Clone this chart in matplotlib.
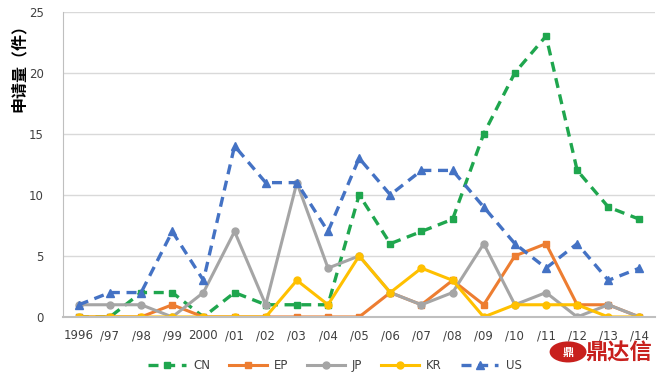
import numpy as np
import matplotlib.pyplot as plt
from matplotlib.patches import Circle

plt.rcParams['font.family'] = ['DejaVu Sans', 'Noto Sans CJK SC']

years = ['1996', '/97', '/98', '/99', '2000', '/01', '/02', '/03', '/04', '/05',
         '/06', '/07', '/08', '/09', '/10', '/11', '/12', '/13', '/14']
cn = [0, 0, 2, 2, 0, 2, 1, 1, 1, 10, 6, 7, 8, 15, 20, 23, 12, 9, 8]
ep = [0, 0, 0, 1, 0, 0, 0, 0, 0, 0, 2, 1, 3, 1, 5, 6, 1, 1, 0]
jp = [1, 1, 1, 0, 2, 7, 1, 11, 4, 5, 2, 1, 2, 6, 1, 2, 0, 1, 0]
kr = [0, 0, 0, 0, 0, 0, 0, 3, 1, 5, 2, 4, 3, 0, 1, 1, 1, 0, 0]
us = [1, 2, 2, 7, 3, 14, 11, 11, 7, 13, 10, 12, 12, 9, 6, 4, 6, 3, 4]

fig = plt.figure(figsize=(6.59, 3.76), dpi=100)
ax = fig.add_axes([0.096, 0.157, 0.898, 0.812])
x = np.arange(len(years))

ax.plot(x, cn, color='#1FA64E', lw=2.4, ls=(0, (3, 2)), marker='s', ms=5, label='CN')
ax.plot(x, ep, color='#ED7D31', lw=2.2, marker='s', ms=5, label='EP')
ax.plot(x, jp, color='#A5A5A5', lw=2.2, marker='o', ms=5, label='JP')
ax.plot(x, kr, color='#FFC000', lw=2.2, marker='o', ms=5, label='KR')
ax.plot(x, us, color='#4472C4', lw=2.4, ls=(0, (3, 2)), marker='^', ms=5.5, label='US')

ax.set_xlim(-0.5, len(years) - 0.5)
ax.set_ylim(0, 25)
ax.set_yticks([0, 5, 10, 15, 20, 25])
ax.set_xticks(x)
ax.set_xticklabels(years)
ax.tick_params(length=0, labelsize=8.5, colors='#404040')
ax.tick_params(axis='x', pad=9)
ax.tick_params(axis='y', pad=14)
ax.grid(axis='y', color='#D9D9D9', lw=1)
ax.set_axisbelow(True)
for s in ['top', 'right']:
    ax.spines[s].set_visible(False)
ax.spines['left'].set_color('#BFBFBF')
ax.spines['bottom'].set_color('#BFBFBF')
ax.spines['bottom'].set_linewidth(1.5)

# y label sits near the top in the original
fig.text(0.028, 0.83, '申请量（件）', family=['Noto Sans CJK SC'], fontsize=11.5,
         fontweight='bold', rotation=90, ha='center', va='center')

fig.legend(*ax.get_legend_handles_labels(), loc='center', bbox_to_anchor=(0.508, 0.027),
           ncol=5, frameon=False, fontsize=8.5, handlelength=3.2, handletextpad=0.6,
           columnspacing=1.6, labelcolor='#404040', borderaxespad=0, borderpad=0)

# logo
fig.patches.append(Circle((0.862, 0.064), 0.028, transform=fig.transFigure,
                          facecolor='#C8201D', edgecolor='none'))
fig.text(0.862, 0.062, '鼎', color='white', fontsize=8, fontweight='bold',
         ha='center', va='center', family=['Noto Sans CJK SC'])
fig.text(0.938, 0.062, '鼎达信', color='#C8201D', fontsize=16, fontweight='bold',
         ha='center', va='center', family=['Noto Sans CJK SC'])

fig.savefig('out.png', dpi=100)
